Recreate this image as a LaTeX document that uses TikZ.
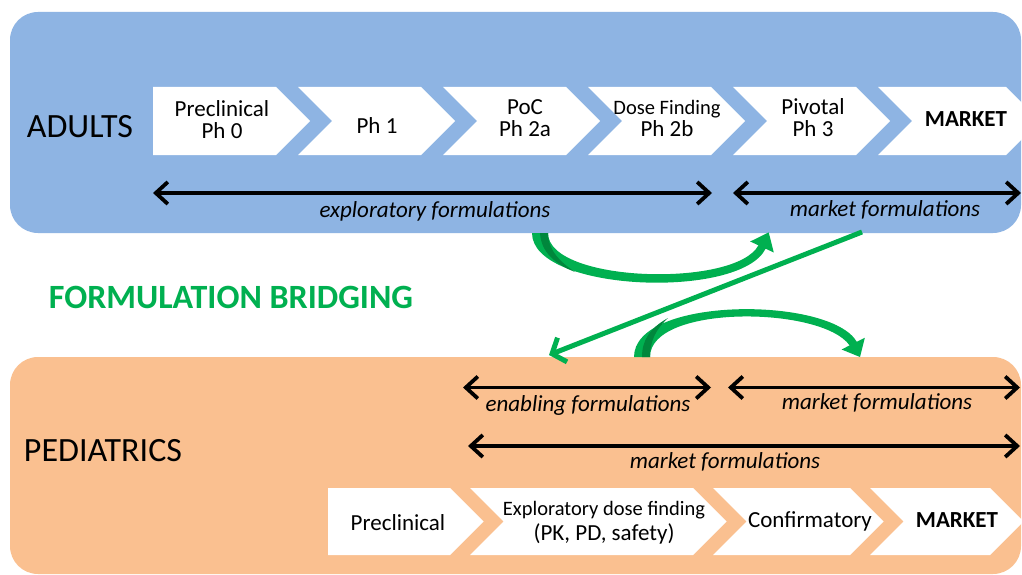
\documentclass[tikz,border=0pt]{standalone}
\usepackage{fontspec}
\setmainfont{Carlito}
\usetikzlibrary{arrows.meta}
\definecolor{adultblue}{RGB}{142,180,227}
\definecolor{pedorange}{RGB}{250,192,144}
\definecolor{bridgegreen}{RGB}{0,176,80}
\definecolor{darkgreen}{RGB}{0,135,60}
\begin{document}
\begin{tikzpicture}[x=1pt,y=-1pt,
  chevfill/.style={fill=white},
  steptext/.style={font=\fontsize{23}{22}\selectfont, align=center, inner sep=0pt, text=black},
  grouplabel/.style={font=\fontsize{34}{36}\selectfont, inner sep=0pt},
  formlabel/.style={font=\fontsize{23}{24}\selectfont\itshape, inner sep=0pt},
  spanarrow/.style={line width=3.8pt, {Straight Barb[length=12pt,width=22pt]}-{Straight Barb[length=12pt,width=22pt]}},
  bridgebody/.style={fill=bridgegreen},
  bridgeline/.style={draw=bridgegreen, line width=5pt, -{Straight Barb[length=11pt,width=26pt]}}
]
\useasboundingbox (0,0) rectangle (1022,575);
\clip (0,0) rectangle (1022,575);
\fill[white] (0,0) rectangle (1022,575);

% group boxes
\fill[adultblue, rounded corners=28pt] (10,12) rectangle (1021,233);
\fill[pedorange, rounded corners=28pt] (10,357) rectangle (1021,574);

% adult chevrons
\fill[chevfill] (153,87) -- (276,87) -- (310,121) -- (276,155) -- (153,155) -- cycle;
\foreach \L/\R in {298/421, 443/566, 588/711, 733/856, 878/1006}{
  \fill[chevfill] (\L,87) -- (\R,87) -- (\R+34,121) -- (\R,155) -- (\L,155) -- (\L+34,121) -- cycle;
}
% pediatric chevrons
\fill[chevfill] (328,488) -- (450,488) -- (483.5,521.5) -- (450,555) -- (328,555) -- cycle;
\foreach \L/\R in {470/693, 713/850, 870/990}{
  \fill[chevfill] (\L,488) -- (\R,488) -- (\R+33.5,521.5) -- (\R,555) -- (\L,555) -- (\L+33.5,521.5) -- cycle;
}

% adult step texts
\node[steptext] (a1) at (222,120) {Preclinical\\Ph 0};
\node[steptext] (a2) at (377,126) {Ph 1};
\node[steptext] (a3) at (525,118) {PoC\\Ph 2a};
\node[steptext] (a4) at (667,118) {{\fontsize{20.5}{22}\selectfont Dose Finding}\\Ph 2b};
\node[steptext] (a5) at (813,118) {Pivotal\\Ph 3};
\node[steptext] (a6) at (966,119.5) {\textbf{MARKET}};

% pediatric step texts
\node[steptext] (p1) at (398,523) {Preclinical};
\node[steptext, font=\fontsize{23}{25}\selectfont] (p2) at (604,523) {{\fontsize{20.5}{25}\selectfont Exploratory dose finding}\\(PK, PD, safety)};
\node[steptext] (p3) at (810,521) {Confirmatory};
\node[steptext] (p4) at (957,520.5) {\textbf{MARKET}};

% group labels
\node[grouplabel] (adults) at (80,127) {ADULTS};
\node[grouplabel] (peds) at (103,451) {PEDIATRICS};
\node[font=\fontsize{34}{36}\selectfont\bfseries, text=bridgegreen, inner sep=0pt] (bridging) at (231,297) {FORMULATION BRIDGING};

% adult formulation spans
\coordinate (ae1) at (153,193);
\coordinate (ae2) at (712,193);
\coordinate (am1) at (733,193);
\coordinate (am2) at (1021,193);
\draw[spanarrow] (ae1) -- (ae2);
\draw[spanarrow] (am1) -- (am2);
\node[formlabel] (aexp) at (435,211.5) {exploratory formulations};
\node[formlabel] (amkt) at (885,210) {market formulations};

% pediatric formulation spans
\coordinate (pe1) at (463,387.5);
\coordinate (pe2) at (711,387.5);
\coordinate (pm1) at (728,387.5);
\coordinate (pm2) at (1020,387.5);
\coordinate (pf1) at (468,446);
\coordinate (pf2) at (1020,446);
\draw[spanarrow] (pe1) -- (pe2);
\draw[spanarrow] (pm1) -- (pm2);
\draw[spanarrow] (pf1) -- (pf2);
\node[formlabel] (pen) at (588,405) {enabling formulations};
\node[formlabel] (pmk) at (877,403) {market formulations};
\node[formlabel] (pmf) at (725,462) {market formulations};

% green bridging arrows
% upper curved arrow (adult exploratory -> adult market)
\coordinate (g1s) at (540,233);
\coordinate (g1e) at (768.7,232.4);
\fill[bridgebody] (532,233) .. controls (532,292) and (740,300) .. (765.6,248.7)
  -- (773.8,252.5) -- (g1e) -- (750.2,241.5) -- (758.4,245.3)
  .. controls (736,288) and (548,283) .. (548,233) -- cycle;
\fill[darkgreen] (540,233) .. controls (541,252) and (555,264) .. (575,272)
  .. controls (560,262) and (548,250) .. (548,233) -- cycle;
% straight arrow (adult market -> pediatric enabling)
\coordinate (g2s) at (862,232);
\coordinate (g2e) at (549,355);
\draw[bridgeline] (g2s) -- (g2e);
% lower curved arrow (pediatric enabling -> pediatric market)
\coordinate (g3s) at (642,357);
\coordinate (g3e) at (860,357);
\fill[bridgebody] (634,357) .. controls (634,296) and (830,296) .. (856.8,341.8)
  -- (864.8,337.8) -- (g3e) -- (841.6,349.5) -- (849.6,345.4)
  .. controls (822,306) and (650,304) .. (650,357) -- cycle;
\fill[darkgreen] (642,357) .. controls (642,340) and (650,328) .. (668,318)
  .. controls (655,330) and (650,342) .. (650,357) -- cycle;
\end{tikzpicture}
\end{document}
